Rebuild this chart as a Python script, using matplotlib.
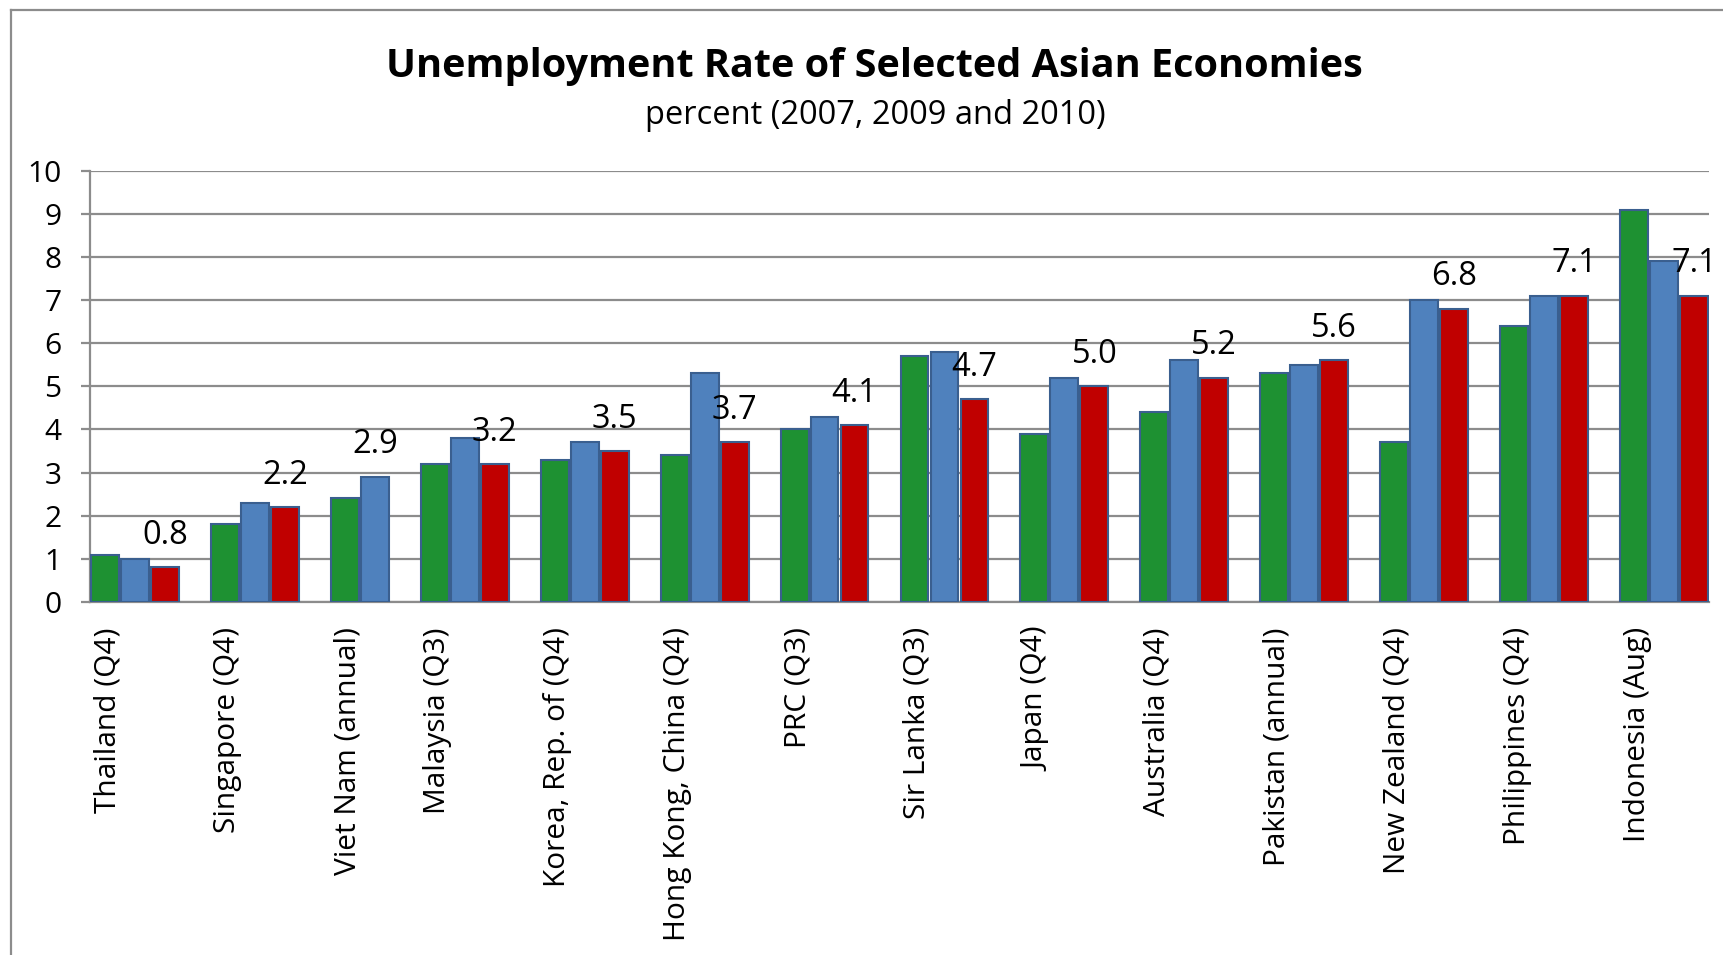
import numpy as np
import matplotlib
matplotlib.use("Agg")
import matplotlib.pyplot as plt
from matplotlib.lines import Line2D
from matplotlib.transforms import ScaledTranslation

categories = ["Thailand (Q4)", "Singapore (Q4)", "Viet Nam (annual)", "Malaysia (Q3)",
              "Korea, Rep. of (Q4)", "Hong Kong, China (Q4)", "PRC (Q3)", "Sir Lanka (Q3)",
              "Japan (Q4)", "Australia (Q4)", "Pakistan (annual)", "New Zealand (Q4)",
              "Philippines (Q4)", "Indonesia (Aug)"]
y2007 = [1.1, 1.8, 2.4, 3.2, 3.3, 3.4, 4.0, 5.7, 3.9, 4.4, 5.3, 3.7, 6.4, 9.1]
y2009 = [1.0, 2.3, 2.9, 3.8, 3.7, 5.3, 4.3, 5.8, 5.2, 5.6, 5.5, 7.0, 7.1, 7.9]
y2010 = [0.8, 2.2, np.nan, 3.2, 3.5, 3.7, 4.1, 4.7, 5.0, 5.2, 5.6, 6.8, 7.1, 7.1]
labels = ["0.8", "2.2", "2.9", "3.2", "3.5", "3.7", "4.1", "4.7", "5.0", "5.2", "5.6", "6.8", "7.1", "7.1"]
yticks = [0, 1, 2, 3, 4, 5, 6, 7, 8, 9, 10]

FONT = "Open Sans"
W, H = 1723, 955
fig = plt.figure(figsize=(W / 100, H / 100), dpi=100)
ax = fig.add_axes([90 / W, 1 - 602 / H, (1709 - 90) / W, (602 - 170.7) / H])

edge = "#3a5f8f"
cols = ["#1e9132", "#4f81bd", "#c00000"]
series = [y2007, y2009, y2010]

# each available value occupies one slot; one empty slot separates countries
pos = 0
tick_pos = []
for ci, cat in enumerate(categories):
    tick_pos.append(pos)
    last = None
    for si in range(3):
        v = series[si][ci]
        if np.isnan(v):
            continue
        ax.bar(pos, v, width=0.93, color=cols[si], edgecolor=edge, linewidth=1.5, zorder=3)
        last = (pos, v)
        pos += 1
    ax.annotate(labels[ci], last, xytext=(0, 23), textcoords="offset points",
                ha="center", va="center", fontsize=23.5, family=FONT, color="black", zorder=5)
    pos += 1
n_slots = pos - 1

ax.set_xlim(-0.5, n_slots - 0.5)
ax.set_ylim(0, 10)
ax.set_yticks(yticks)
ax.set_yticklabels([str(t) for t in yticks], fontsize=21.5, family=FONT)
ax.yaxis.grid(True, color="#8c8c8c", linewidth=1.6, zorder=0)
ax.set_axisbelow(True)
ax.tick_params(axis="y", length=6.5, width=1.6, color="#8c8c8c", pad=14)
ax.set_xticks(tick_pos)
ax.set_xticklabels(categories, rotation=90, fontsize=21.5, family=FONT, va="top", ha="center")
ax.tick_params(axis="x", length=0, pad=18)
shift = ScaledTranslation(3 / 100, 0, fig.dpi_scale_trans)
for lbl in ax.get_xticklabels():
    lbl.set_transform(lbl.get_transform() + shift)
for s in ["top", "right"]:
    ax.spines[s].set_visible(False)
for s in ["left", "bottom"]:
    ax.spines[s].set_color("#8c8c8c")
    ax.spines[s].set_linewidth(1.6)

fig.text(874.5 / W, 1 - 66 / H, "Unemployment Rate of Selected Asian Economies",
         ha="center", va="center", fontsize=28.5, fontweight="bold", family=FONT)
fig.text(875 / W, 1 - 116 / H, "percent (2007, 2009 and 2010)",
         ha="center", va="center", fontsize=23.5, family=FONT)

# chart-area frame (left and top edges visible)
fig.add_artist(Line2D([11 / W, 11 / W], [0, 1 - 10 / H], color="#8c8c8c", linewidth=1.6))
fig.add_artist(Line2D([11 / W, 1], [1 - 10 / H, 1 - 10 / H], color="#8c8c8c", linewidth=1.6))

fig.savefig("out.png", dpi=100, facecolor="white")
